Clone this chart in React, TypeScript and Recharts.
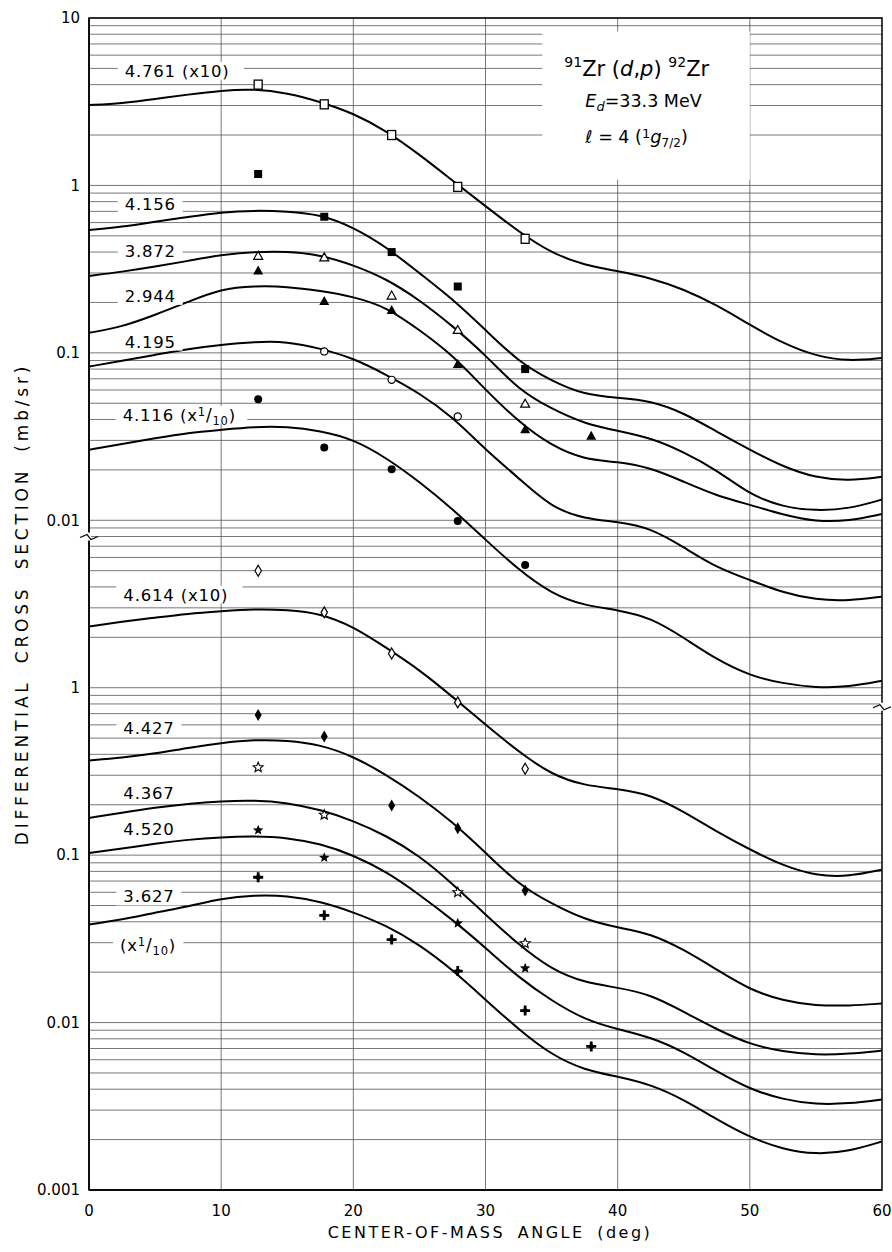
import React from 'react';
import {
  ComposedChart,
  Line,
  Scatter,
  XAxis,
  YAxis,
  CartesianGrid,
  ReferenceArea,
  ReferenceDot,
} from 'recharts';

// angles (deg) at which the DWBA curves were read
const ANGLES = [0, 2.5, 5, 7.5, 10, 12.5, 15, 17.5, 20, 22.5, 25, 27.5, 30, 32.5, 35, 37.5, 40, 42.5, 45, 47.5, 50, 52.5, 55, 57.5, 60];
// angles of the measured points
const MARK_ANGLES = [12.8, 17.8, 22.9, 27.9, 33.0, 38.0];

// upper panel, mb/sr
const CURVE_4761 = [3.02, 3.09, 3.28, 3.49, 3.69, 3.77, 3.57, 3.16, 2.7, 2.12, 1.53, 1.07, 0.752, 0.53, 0.394, 0.333, 0.308, 0.28, 0.24, 0.193, 0.147, 0.114, 0.0955, 0.0891, 0.0933];
const CURVE_4156 = [0.542, 0.565, 0.608, 0.648, 0.692, 0.709, 0.7, 0.671, 0.563, 0.429, 0.299, 0.21, 0.137, 0.0884, 0.068, 0.0561, 0.0539, 0.0517, 0.0438, 0.0338, 0.0264, 0.0209, 0.0179, 0.0172, 0.0182];
const CURVE_3872 = [0.288, 0.305, 0.327, 0.354, 0.385, 0.401, 0.404, 0.385, 0.335, 0.277, 0.207, 0.145, 0.0973, 0.0601, 0.0463, 0.0377, 0.0342, 0.0311, 0.0256, 0.02, 0.0142, 0.012, 0.0114, 0.0117, 0.0133];
const CURVE_2944 = [0.1316, 0.143, 0.1686, 0.2016, 0.241, 0.251, 0.249, 0.2345, 0.2168, 0.188, 0.137, 0.0973, 0.0601, 0.0387, 0.0278, 0.023, 0.0224, 0.0206, 0.017, 0.014, 0.0124, 0.0108, 0.0098, 0.0099, 0.0109];
const CURVE_4195 = [0.0828, 0.0896, 0.0973, 0.1056, 0.1116, 0.1163, 0.1171, 0.1063, 0.093, 0.0739, 0.0575, 0.0415, 0.0264, 0.0179, 0.0119, 0.0102, 0.0098, 0.009, 0.0069, 0.0052, 0.0044, 0.0037, 0.00335, 0.0033, 0.0035];
const CURVE_4116 = [0.0264, 0.0286, 0.0309, 0.0333, 0.0347, 0.0362, 0.0363, 0.0342, 0.0305, 0.0236, 0.017, 0.0117, 0.00765, 0.00506, 0.00364, 0.00309, 0.00292, 0.00262, 0.00199, 0.00147, 0.00118, 0.00106, 0.001, 0.00101, 0.0011];

// lower panel, mb/sr
const CURVE_4614 = [2.32, 2.48, 2.62, 2.77, 2.86, 2.95, 2.92, 2.78, 2.32, 1.73, 1.28, 0.884, 0.601, 0.415, 0.302, 0.26, 0.249, 0.23, 0.182, 0.138, 0.108, 0.0866, 0.0754, 0.0744, 0.0819];
const CURVE_4427 = [0.368, 0.382, 0.404, 0.438, 0.468, 0.489, 0.485, 0.457, 0.389, 0.302, 0.2235, 0.158, 0.1035, 0.0667, 0.0513, 0.0412, 0.0369, 0.034, 0.0273, 0.0207, 0.0157, 0.0135, 0.0126, 0.0126, 0.013];
const CURVE_4367 = [0.1668, 0.1794, 0.1921, 0.203, 0.2101, 0.213, 0.2058, 0.1869, 0.1607, 0.1307, 0.0993, 0.0676, 0.0441, 0.0292, 0.0207, 0.0173, 0.0162, 0.0147, 0.0116, 0.0091, 0.0074, 0.0067, 0.0064, 0.0065, 0.0068];
const CURVE_4520 = [0.1031, 0.1093, 0.1171, 0.1238, 0.1281, 0.1299, 0.1272, 0.1171, 0.1, 0.0797, 0.0581, 0.0412, 0.028, 0.0186, 0.0135, 0.0104, 0.0091, 0.0082, 0.0067, 0.0051, 0.004, 0.00347, 0.00324, 0.00328, 0.00347];
const CURVE_3627 = [0.0385, 0.0412, 0.0454, 0.0493, 0.055, 0.0577, 0.0573, 0.0528, 0.0457, 0.038, 0.0292, 0.0207, 0.0137, 0.0091, 0.0064, 0.0052, 0.00476, 0.00427, 0.00347, 0.00264, 0.00206, 0.00175, 0.00163, 0.0017, 0.00195];

// measured points (null = no point at that angle)
const PTS_4761 = [4.0, 3.05, 2.0, 0.98, 0.48, null];
const PTS_4156 = [1.17, 0.65, 0.4, 0.249, 0.08, null];
const PTS_3872 = [0.38, 0.372, 0.22, 0.137, 0.0497, null];
const PTS_2944 = [0.31, 0.204, 0.18, 0.0857, 0.035, 0.032];
const PTS_4195 = [null, 0.102, 0.069, 0.0417, null, null];
const PTS_4116 = [0.0528, 0.0272, 0.0202, 0.0099, 0.0054, null];
const PTS_4614 = [5.0, 2.82, 1.6, 0.817, 0.328, null];
const PTS_4427 = [0.687, 0.512, 0.198, 0.145, 0.0614, null];
const PTS_4367 = [0.334, 0.174, null, 0.06, 0.0297, null];
const PTS_4520 = [0.141, 0.0966, null, 0.0392, 0.0211, null];
const PTS_3627 = [0.0738, 0.0437, 0.0313, 0.0203, 0.0118, 0.0072];

// axis ticks: the lower panel sits three decades below the upper one
const TOP_TICKS = [10, 1, 0.1, 0.01];
const BOTTOM_TICKS = [1, 0.1, 0.01, 0.001];
const TICK_LABELS = ['10', '1', '0.1', '0.01', '1', '0.1', '0.01', '0.001'];
const X_TICKS = [0, 10, 20, 30, 40, 50, 60];
const BOTTOM_SHIFT = 1e-3;

const Y_TICKS = [...TOP_TICKS, ...BOTTOM_TICKS.map((v) => v * BOTTOM_SHIFT)];

const GRID_VALUES: number[] = [];
for (let e = -6; e <= 0; e++) for (let m = 1; m <= 9; m++) GRID_VALUES.push(m * Math.pow(10, e));
GRID_VALUES.push(10);

const SERIES = [
  { name: '4.761', curve: CURVE_4761, pts: PTS_4761, kind: 'sqO', low: false },
  { name: '4.156', curve: CURVE_4156, pts: PTS_4156, kind: 'sqF', low: false },
  { name: '3.872', curve: CURVE_3872, pts: PTS_3872, kind: 'triO', low: false },
  { name: '2.944', curve: CURVE_2944, pts: PTS_2944, kind: 'triF', low: false },
  { name: '4.195', curve: CURVE_4195, pts: PTS_4195, kind: 'cirO', low: false },
  { name: '4.116', curve: CURVE_4116, pts: PTS_4116, kind: 'cirF', low: false },
  { name: '4.614', curve: CURVE_4614, pts: PTS_4614, kind: 'diaO', low: true },
  { name: '4.427', curve: CURVE_4427, pts: PTS_4427, kind: 'diaF', low: true },
  { name: '4.367', curve: CURVE_4367, pts: PTS_4367, kind: 'starO', low: true },
  { name: '4.520', curve: CURVE_4520, pts: PTS_4520, kind: 'starF', low: true },
  { name: '3.627', curve: CURVE_3627, pts: PTS_3627, kind: 'plus', low: true },
];

// curve labels (angle, position on the shared axis)
const LABELS = [
  { text: '4.761 (x10)', x: 2.7, y: 4.83 },
  { text: '4.156', x: 2.7, y: 0.775 },
  { text: '3.872', x: 2.7, y: 0.406 },
  { text: '2.944', x: 2.7, y: 0.219 },
  { text: '4.195', x: 2.7, y: 0.1168 },
  { text: '4.116 (x', frac: true, x: 2.55, y: 0.0427 },
  { text: '4.614 (x10)', x: 2.6, y: 0.00359 },
  { text: '4.427', x: 2.6, y: 5.75e-4 },
  { text: '4.367', x: 2.6, y: 2.35e-4 },
  { text: '4.520', x: 2.6, y: 1.432e-4 },
  { text: '3.627', x: 2.6, y: 5.67e-5 },
  { text: '(x', frac: true, x: 2.35, y: 2.92e-5 },
];

const FONT = '"DejaVu Sans", Verdana, sans-serif';

function starPath(cx: number, cy: number, R: number, r: number) {
  let d = '';
  for (let i = 0; i < 10; i++) {
    const a = -Math.PI / 2 + (i * Math.PI) / 5;
    const rad = i % 2 === 0 ? R : r;
    d += (i === 0 ? 'M' : 'L') + (cx + rad * Math.cos(a)).toFixed(2) + ',' + (cy + rad * Math.sin(a)).toFixed(2);
  }
  return d + 'Z';
}

function Marker({ cx, cy, kind }: { cx: number; cy: number; kind: string }) {
  if (cx == null || cy == null) return null;
  const k = '#000';
  switch (kind) {
    case 'sqO':
      return <rect x={cx - 4} y={cy - 4.5} width={8} height={9} fill="#fff" stroke={k} strokeWidth={1.3} />;
    case 'sqF':
      return <rect x={cx - 4} y={cy - 4} width={8} height={8} fill={k} />;
    case 'triO':
      return <path d={`M${cx},${cy - 4.5}L${cx + 4.5},${cy + 3.5}L${cx - 4.5},${cy + 3.5}Z`} fill="#fff" stroke={k} strokeWidth={1.2} />;
    case 'triF':
      return <path d={`M${cx},${cy - 5}L${cx + 5},${cy + 4}L${cx - 5},${cy + 4}Z`} fill={k} />;
    case 'cirO':
      return <circle cx={cx} cy={cy} r={3.6} fill="#fff" stroke={k} strokeWidth={1.2} />;
    case 'cirF':
      return <circle cx={cx} cy={cy} r={4} fill={k} />;
    case 'diaO':
      return <path d={`M${cx},${cy - 5.5}L${cx + 3.2},${cy}L${cx},${cy + 5.5}L${cx - 3.2},${cy}Z`} fill="#fff" stroke={k} strokeWidth={1.2} />;
    case 'diaF':
      return <path d={`M${cx},${cy - 6}L${cx + 3.5},${cy}L${cx},${cy + 6}L${cx - 3.5},${cy}Z`} fill={k} />;
    case 'starO':
      return <path d={starPath(cx, cy, 5.2, 2.3)} fill="#fff" stroke={k} strokeWidth={1.1} />;
    case 'starF':
      return <path d={starPath(cx, cy, 5.5, 2.4)} fill={k} />;
    case 'plus':
      return (
        <g>
          <path d={`M${cx - 1.4},${cy - 5}h2.8v3.6h3.6v2.8h-3.6v3.6h-2.8v-3.6h-3.6v-2.8h3.6Z`} fill={k} />
          <path d={`M${cx},${cy - 3.4}L${cx + 3.4},${cy}L${cx},${cy + 3.4}L${cx - 3.4},${cy}Z`} fill={k} />
        </g>
      );
    default:
      return null;
  }
}

function CurveLabel(props: any) {
  const { cx, cy, text, frac } = props;
  if (cx == null || cy == null) return null;
  const w = text.length * 10.2 + (frac ? 36 : 0) + 14;
  return (
    <g>
      <rect x={cx - 7} y={cy - 9} width={w} height={18} fill="#fff" />
      <text x={cx} y={cy} dy="0.36em" fontFamily={FONT} fontSize={16.5} fill="#000" letterSpacing={0.8}>
        {text}
        {frac ? (
          <>
            <tspan dy={-5} fontSize={11.5}>1</tspan>
            <tspan dy={5} fontSize={17}>/</tspan>
            <tspan dy={4} fontSize={11.5}>10</tspan>
            <tspan dy={-4} fontSize={16.5}>)</tspan>
          </>
        ) : null}
      </text>
    </g>
  );
}

function BreakMark(props: any) {
  const { cx, cy } = props;
  if (cx == null || cy == null) return null;
  return (
    <g>
      <rect x={cx - 2} y={cy - 4} width={4} height={8} fill="#fff" />
      <path d={`M${cx - 9},${cy + 1}L${cx - 2},${cy - 2}L${cx + 2},${cy + 3}L${cx + 9},${cy}`} fill="none" stroke="#000" strokeWidth={1.2} />
    </g>
  );
}

function BoxText(props: any) {
  const { cx, cy } = props;
  if (cx == null || cy == null) return null;
  return (
    <g fontFamily={FONT} fill="#000">
      <text x={cx + 22} y={cy + 44} fontSize={21}>
        <tspan fontSize={14} dy={-9}>91</tspan>
        <tspan dy={9}>Zr (</tspan>
        <tspan fontStyle="italic">d</tspan>
        <tspan>,</tspan>
        <tspan fontStyle="italic">p</tspan>
        <tspan>) </tspan>
        <tspan fontSize={14} dy={-9}>92</tspan>
        <tspan dy={9}>Zr</tspan>
      </text>
      <text x={cx + 43} y={cy + 75} fontSize={17.5}>
        <tspan fontStyle="italic">E</tspan>
        <tspan fontStyle="italic" fontSize={13} dy={4}>d</tspan>
        <tspan dy={-4}>=33.3 MeV</tspan>
      </text>
      <text x={cx + 43} y={cy + 111} fontSize={17.5}>
        <tspan fontStyle="italic">ℓ</tspan>
        <tspan> = 4 (</tspan>
        <tspan fontSize={13} dy={-5}>1</tspan>
        <tspan fontStyle="italic" fontSize={18} dy={5}>g</tspan>
        <tspan fontSize={12} dy={4}>7/2</tspan>
        <tspan dy={-4}>)</tspan>
      </text>
    </g>
  );
}

const toLine = (curve: number[], low: boolean) =>
  ANGLES.map((x, i) => ({ x, y: curve[i] * (low ? BOTTOM_SHIFT : 1) }));

const toPts = (pts: (number | null)[], low: boolean) =>
  MARK_ANGLES.map((x, i) => (pts[i] == null ? null : { x, y: (pts[i] as number) * (low ? BOTTOM_SHIFT : 1) })).filter(
    (p) => p !== null
  ) as { x: number; y: number }[];

const tickLabel = (v: number) => {
  const i = Y_TICKS.findIndex((t) => Math.abs(Math.log10(t) - Math.log10(v)) < 1e-6);
  return i >= 0 ? TICK_LABELS[i] : '';
};

export default function App() {
  return (
    <div style={{ position: 'absolute', left: 0, top: 0, width: 892, height: 1252, background: '#fff', fontFamily: FONT }}>
      <ComposedChart width={892} height={1252} margin={{ top: 18, right: 10, bottom: 32, left: 9 }}>
        <CartesianGrid
          horizontalValues={GRID_VALUES}
          verticalValues={[10, 20, 30, 40, 50]}
          stroke="#555"
          strokeWidth={0.8}
        />
        <XAxis
          type="number"
          dataKey="x"
          domain={[0, 60]}
          ticks={X_TICKS}
          allowDataOverflow
          height={30}
          tickLine={false}
          tickSize={0}
          tickMargin={15}
          axisLine={{ stroke: '#000', strokeWidth: 1.5 }}
          tick={{ fontSize: 15, fill: '#000', fontFamily: FONT }}
        />
        <YAxis
          type="number"
          dataKey="y"
          scale="log"
          domain={[1e-6, 10]}
          ticks={Y_TICKS}
          interval={0}
          allowDataOverflow
          width={80}
          tickLine={false}
          tickSize={0}
          tickMargin={9}
          tickFormatter={tickLabel}
          axisLine={{ stroke: '#000', strokeWidth: 1.5 }}
          tick={{ fontSize: 15, fill: '#000', fontFamily: FONT }}
        />
        <ReferenceArea x1={0} x2={60} y1={1e-6} y2={10} fill="none" stroke="#000" strokeWidth={1.5} />
        <ReferenceArea x1={34.3} x2={50} y1={1.08} y2={8.3} fill="#fff" fillOpacity={1} stroke="none" />
        <ReferenceDot x={34.3} y={8.3} r={0} shape={(p: any) => <BoxText {...p} />} />
        {LABELS.map((l, i) => (
          <ReferenceDot key={'lab' + i} x={l.x} y={l.y} r={0} shape={(p: any) => <CurveLabel {...p} text={l.text} frac={l.frac} />} />
        ))}
        <ReferenceDot x={0} y={0.008} r={0} shape={(p: any) => <BreakMark {...p} />} />
        <ReferenceDot x={60} y={7.7e-4} r={0} shape={(p: any) => <BreakMark {...p} />} />
        {SERIES.map((s) => (
          <Line
            key={'c' + s.name}
            data={toLine(s.curve, s.low)}
            dataKey="y"
            type="basis"
            dot={false}
            stroke="#000"
            strokeWidth={2}
            isAnimationActive={false}
          />
        ))}
        {SERIES.map((s) => (
          <Scatter
            key={'p' + s.name}
            data={toPts(s.pts, s.low)}
            dataKey="y"
            isAnimationActive={false}
            shape={(p: any) => <Marker cx={p.cx} cy={p.cy} kind={s.kind} />}
          />
        ))}
      </ComposedChart>
      <div
        style={{
          position: 'absolute',
          left: 22 - 270,
          top: 604 - 11,
          width: 540,
          height: 22,
          lineHeight: '22px',
          textAlign: 'center',
          fontSize: 17,
          letterSpacing: 3.8,
          wordSpacing: 7,
          transform: 'rotate(-90deg)',
          whiteSpace: 'nowrap',
        }}
      >
        DIFFERENTIAL CROSS SECTION (mb/sr)
      </div>
      <div
        style={{
          position: 'absolute',
          left: 490 - 220,
          top: 1233 - 11,
          width: 440,
          height: 22,
          lineHeight: '22px',
          textAlign: 'center',
          fontSize: 16,
          letterSpacing: 2.5,
          wordSpacing: 5,
          whiteSpace: 'nowrap',
        }}
      >
        CENTER-OF-MASS ANGLE (deg)
      </div>
    </div>
  );
}
